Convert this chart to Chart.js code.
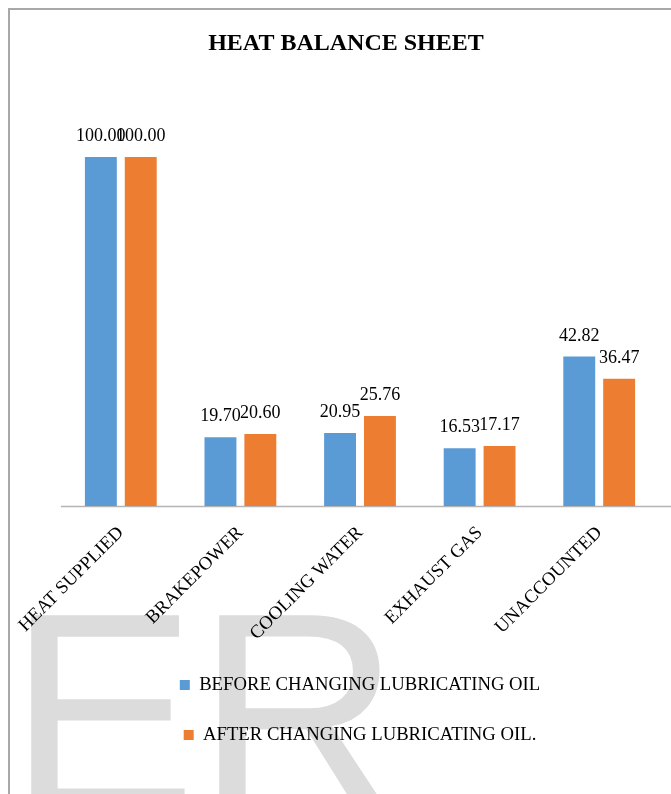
<!DOCTYPE html>
<html>
<head>
<meta charset="utf-8">
<script src="https://cdn.jsdelivr.net/npm/chart.js@4.4.1/dist/chart.umd.min.js"></script>
<style>
  html, body { margin: 0; padding: 0; background: #fff; overflow: hidden; width: 671px; height: 794px; }
  #frame { position: absolute; left: 8px; top: 8px; width: 800px; height: 900px;
           border-left: 2px solid #a8a8a8; border-top: 2px solid #a8a8a8; }
  #heatChart { position: absolute; left: 0; top: 0; }
</style>
</head>
<body>
<div id="frame"></div>
<canvas id="heatChart" width="692" height="794"></canvas>
<script>
// data
let categories = ["HEAT SUPPLIED", "BRAKEPOWER", "COOLING WATER", "EXHAUST GAS", "UNACCOUNTED"];
let beforeValues = [100.00, 19.70, 20.95, 16.53, 42.82];
let afterValues = [100.00, 20.60, 25.76, 17.17, 36.47];
let seriesNames = ["BEFORE CHANGING LUBRICATING OIL", "AFTER CHANGING LUBRICATING OIL."];
let chartTitle = "HEAT BALANCE SHEET";
let watermark = ["E", "R"];

const serif = "'Liberation Serif', 'Times New Roman', serif";

/**
 * Big grey letters behind everything
 */
const watermarkPlugin = {
    id: "watermark",
    beforeDraw(chart) {
        let ctx = chart.ctx;
        ctx.save();
        ctx.fillStyle = "#dcdcdc";
        ctx.font = "283px 'Liberation Sans', Arial, sans-serif";
        ctx.textBaseline = "alphabetic";
        ctx.textAlign = "left";
        ctx.fillText(watermark[0], 8, 810);
        ctx.fillText(watermark[1], 196, 810);
        ctx.restore();
    }
};

/**
 * Axis line that runs on past the plot area, like the original
 */
const axisLinePlugin = {
    id: "axisLine",
    beforeDatasetsDraw(chart) {
        let ctx = chart.ctx;
        let area = chart.chartArea;
        ctx.save();
        ctx.strokeStyle = "#b4b4b4";
        ctx.lineWidth = 1.5;
        ctx.beginPath();
        ctx.moveTo(area.left, area.bottom + 0.5);
        ctx.lineTo(chart.width, area.bottom + 0.5);
        ctx.stroke();
        ctx.restore();
    }
};

/**
 * Value labels above each bar
 */
const valueLabelPlugin = {
    id: "valueLabels",
    afterDatasetsDraw(chart) {
        let ctx = chart.ctx;
        ctx.save();
        ctx.font = "18px " + serif;
        ctx.fillStyle = "#000";
        ctx.textAlign = "center";
        ctx.textBaseline = "alphabetic";
        chart.data.datasets.forEach((ds, i) => {
            chart.getDatasetMeta(i).data.forEach((bar, j) => {
                ctx.fillText(ds.data[j].toFixed(2), bar.x, bar.y - 16);
            });
        });
        ctx.restore();
    }
};

new Chart(document.getElementById("heatChart"), {
    type: "bar",
    data: {
        labels: categories,
        datasets: [{
            label: seriesNames[0],
            data: beforeValues,
            backgroundColor: "#5b9bd5",
            borderWidth: 0
        }, {
            label: seriesNames[1],
            data: afterValues,
            backgroundColor: "#ed7d31",
            borderWidth: 0
        }]
    },
    options: {
        responsive: false,
        animation: false,
        events: [],
        categoryPercentage: 0.667,
        barPercentage: 0.8,
        layout: { padding: { bottom: 39.65 } },
        plugins: {
            title: {
                display: true,
                text: chartTitle,
                color: "#000",
                font: { family: serif, size: 24, weight: "bold" },
                padding: { top: 29.6, bottom: 28.8 }
            },
            legend: {
                display: true,
                position: "bottom",
                fullSize: false,
                labels: {
                    color: "#000",
                    font: { family: serif, size: 18.7 },
                    boxWidth: 10,
                    boxHeight: 10,
                    padding: 31.3
                }
            },
            tooltip: { enabled: false }
        },
        scales: {
            x: {
                grid: { display: false },
                border: { display: false },
                ticks: {
                    color: "#000",
                    font: { family: serif, size: 18.7 },
                    minRotation: 45,
                    maxRotation: 45,
                    autoSkip: false,
                    padding: 8
                },
                afterFit(scale) { scale.height = 138.35; }
            },
            y: {
                min: 0,
                max: 120,
                ticks: { display: false },
                grid: { display: false },
                border: { display: false },
                afterFit(scale) { scale.width = 61; }
            },
            yRight: {
                type: "linear",
                position: "right",
                ticks: { display: false },
                grid: { display: false },
                border: { display: false },
                afterFit(scale) { scale.width = 33; }
            }
        }
    },
    plugins: [watermarkPlugin, axisLinePlugin, valueLabelPlugin]
});
</script>
</body>
</html>
